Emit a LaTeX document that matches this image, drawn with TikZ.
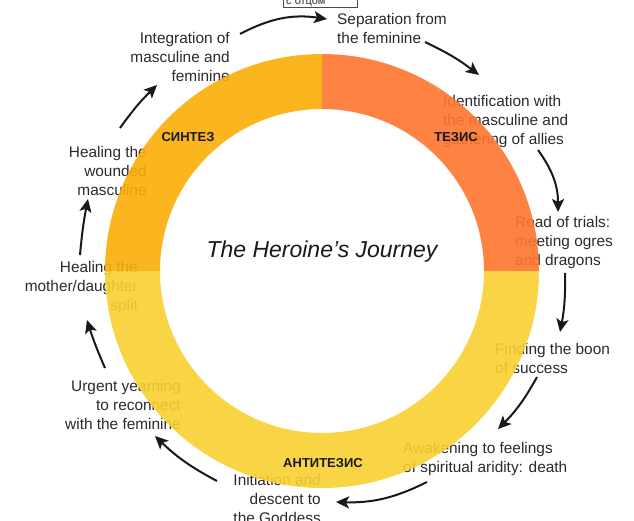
\documentclass[tikz,border=0pt]{standalone}
\usepackage{fontspec}
\setmainfont{Liberation Sans}
\usetikzlibrary{arrows.meta,calc}
\definecolor{cOr}{HTML}{FE762F}
\definecolor{cAm}{HTML}{FBAD07}
\definecolor{cYe}{HTML}{F9D031}
\definecolor{txt}{HTML}{2B2B2B}
\begin{document}
\begin{tikzpicture}[x=1pt,y=1pt,
  lbl/.style={font=\fontsize{15.4}{19}\selectfont, text=txt, inner sep=0pt},
  lblL/.style={lbl, align=left, anchor=north west},
  lblR/.style={lbl, align=right, anchor=north east},
  arr/.style={line width=2pt, draw=black!90, -{Stealth[length=13pt,width=12pt,inset=3pt]}},
  quad/.style={fill opacity=0.9},
  phase/.style={font=\fontsize{13}{15}\selectfont\bfseries, text=black!90, inner sep=0pt}]
\useasboundingbox (0,0) rectangle (634,-520);
\fill[white] (0,0) rectangle (634,-520);

% top box
\draw[black!70, line width=0.6pt, fill=white] (283,8) rectangle (357,-7);
\node[font=\fontsize{11}{13}\selectfont, anchor=base west, inner sep=0pt, text=txt] (box) at (286,-4) {с отцом};

% stage texts
\node[lblL] (t1) at (337,-13) {Separation from\\the feminine};
\node[lblL] (t2) at (443,-95) {Identification with\\the masculine and\\gathering of allies};
\node[lblL] (t3) at (515,-216) {Road of trials:\\meeting ogres\\and dragons};
\node[lblL] (t4) at (495,-343) {Finding the boon\\of success};
\node[lblL] (t5) at (403,-442) {Awakening to feelings\\of spiritual aridity: death};
\node[lblR] (t6) at (321,-474) {Initiation and\\descent to\\the Goddess};
\node[lblR] (t7) at (181,-380) {Urgent yearning\\to reconnect\\with the feminine};
\node[lblR] (t8) at (138,-261) {Healing the\\mother/daughter\\split};
\node[lblR] (t9) at (147,-146) {Healing the\\wounded\\masculine};
\node[lblR] (t10) at (230,-32) {Integration of\\masculine and\\feminine};

% arrow end points
\coordinate (a1s) at (240,-34);  \coordinate (a1e) at (327,-19);
\coordinate (a2s) at (425,-42);  \coordinate (a2e) at (479,-75);
\coordinate (a3s) at (538,-150); \coordinate (a3e) at (558,-212);
\coordinate (a4s) at (565,-273); \coordinate (a4e) at (560,-332);
\coordinate (a5s) at (537,-377); \coordinate (a5e) at (498,-429);
\coordinate (a6s) at (427,-482); \coordinate (a6e) at (336,-502);
\coordinate (a7s) at (217,-481); \coordinate (a7e) at (155,-436);
\coordinate (a8s) at (105,-368); \coordinate (a8e) at (87,-320);
\coordinate (a9s) at (80,-255);  \coordinate (a9e) at (88,-199);
\coordinate (a10s) at (120,-128); \coordinate (a10e) at (157,-85);

\draw[arr] (a1s) to[bend left=18] (a1e);
\draw[arr] (a2s) to[bend left=6] (a2e);
\draw[arr] (a3s) to[bend left=18] (a3e);
\draw[arr] (a4s) to[bend left=6] (a4e);
\draw[arr] (a5s) to[bend left=8] (a5e);
\draw[arr] (a6s) to[bend left=14] (a6e);
\draw[arr] (a7s) to[bend left=8] (a7e);
\draw[arr] (a8s) to[bend left=3] (a8e);
\draw[arr] (a9s) to[bend left=3] (a9e);
\draw[arr] (a10s) to[bend left=5] (a10e);

% ring
\coordinate (c) at (322,-271);
\fill[cOr,quad] ($(c)+(0:217)$) arc[start angle=0,end angle=90,radius=217]
  -- ($(c)+(90:162)$) arc[start angle=90,end angle=0,radius=162] -- cycle;
\fill[cAm,quad] ($(c)+(90:217)$) arc[start angle=90,end angle=180,radius=217]
  -- ($(c)+(180:162)$) arc[start angle=180,end angle=90,radius=162] -- cycle;
\fill[cYe,quad] ($(c)+(180:217)$) arc[start angle=180,end angle=360,radius=217]
  -- ($(c)+(360:162)$) arc[start angle=360,end angle=180,radius=162] -- cycle;

% phase labels and title
\node[phase] (p1) at (456,-137) {ТЕЗИС};
\node[phase] (p2) at (188,-137) {СИНТЕЗ};
\node[phase] (p3) at (323,-463) {АНТИТЕЗИС};
\node[font=\fontsize{23}{27}\selectfont\itshape, text=black!90, inner sep=0pt] (title) at (322,-252) {The Heroine’s Journey};
\end{tikzpicture}
\end{document}
